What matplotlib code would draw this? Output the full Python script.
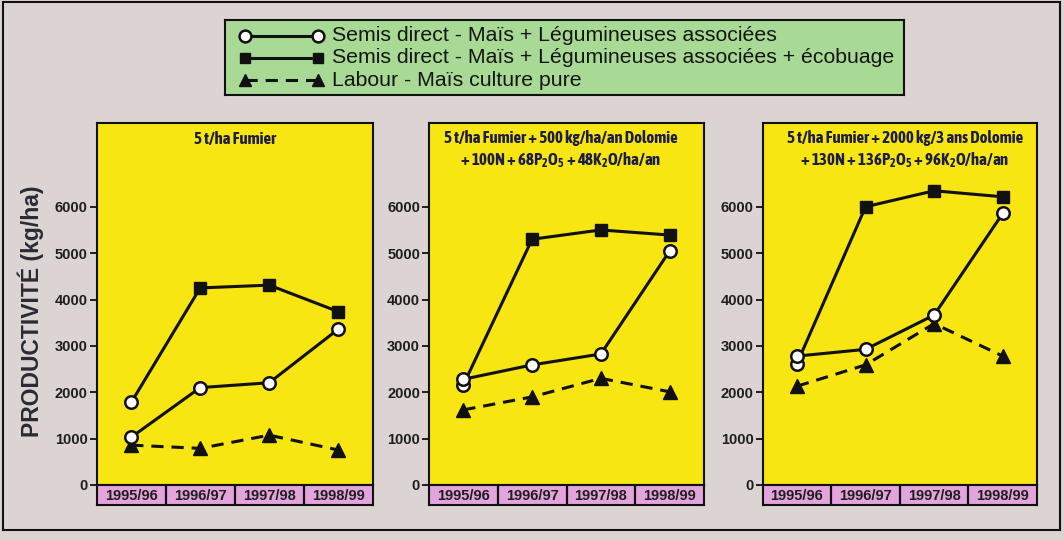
import matplotlib
matplotlib.use('Agg')
import matplotlib.pyplot as plt
from matplotlib.patches import Rectangle
from matplotlib import font_manager as fm

# ---------------- data ----------------
seasons = ['1995/96', '1996/97', '1997/98', '1998/99']
series_labels = [
    'Semis direct - Maïs + Légumineuses associées',
    'Semis direct - Maïs + Légumineuses associées + écobuage',
    'Labour - Maïs culture pure',
]
panel_titles = [
    ['5 t/ha Fumier'],
    ['5 t/ha Fumier + 500 kg/ha/an Dolomie',
     r'+ 100N + 68$\mathregular{P_2O_5}$ + 48$\mathregular{K_2O}$/ha/an'],
    ['5 t/ha Fumier + 2000 kg/3 ans Dolomie',
     r'+ 130N + 136$\mathregular{P_2O_5}$ + 96$\mathregular{K_2O}$/ha/an'],
]
sd_assoc = [[1030, 2100, 2205, 3360],
            [2280, 2590, 2825, 5045],
            [2780, 2925, 3665, 5855]]
sd_ecob = [[1780, 4250, 4310, 3740],
           [2160, 5300, 5500, 5390],
           [2620, 6000, 6345, 6215]]
labour = [[860, 790, 1075, 755],
          [1620, 1900, 2300, 2010],
          [2130, 2590, 3480, 2780]]
yticks = [0, 1000, 2000, 3000, 4000, 5000, 6000]
ylabel = 'PRODUCTIVITÉ (kg/ha)'

# ---------------- style ----------------
W, H = 1064, 540
BG = '#dbd4d2'
YELLOW = '#f7e612'
PINK = '#e3a4dc'
GREEN = '#a8da95'
K = '#111111'
NAVY = '#1d1d45'


def _is_bold(f):
    return ((isinstance(f.weight, int) and f.weight >= 600)
            or f.weight in ('bold', 'heavy', 'black', 'semibold', 'demibold'))


narrow = [f for f in fm.fontManager.ttflist
          if f.style == 'normal' and (
              f.stretch in ('condensed', 'semi-condensed', 'extra-condensed',
                            'ultra-condensed')
              or 'Narrow' in f.name or 'Condensed' in f.name)]
narrow_bold = [f for f in narrow if _is_bold(f)]
pick = narrow_bold or narrow
if pick:
    f0 = sorted(pick, key=lambda f: (f.name.startswith('DejaVu'), f.name))[0]
    COND = dict(family=f0.name, stretch=f0.stretch, style='normal')
    TSIZE = 12.1
else:
    COND = dict(family='Liberation Sans')
    TSIZE = 9.2
SANS = 'Liberation Sans'


def rect(x0, y0, x1, y1):
    return [x0 / W, 1 - y1 / H, (x1 - x0) / W, (y1 - y0) / H]


fig = plt.figure(figsize=(W / 100, H / 100), dpi=100, facecolor=BG)
fig.add_artist(Rectangle((3 / W, 1 - 530 / H), 1057 / W, 528 / H,
                         transform=fig.transFigure, fill=False, lw=1.5, ec=K))

panel_x = [(96.7, 372.7), (429, 704), (762.7, 1037)]
title_cx = [234.7, 561, 905]
title_y = [[139], [138.3, 160], [138.3, 160]]
AX_TOP, AX_BOT, BAND_BOT = 123.3, 485, 505
x = list(range(len(seasons)))

for i, (x0, x1) in enumerate(panel_x):
    ax = fig.add_axes(rect(x0, AX_TOP, x1, AX_BOT))
    ax.set_facecolor(YELLOW)
    ax.set_xlim(-0.5, 3.5)
    ax.set_ylim(0, 7800)
    ax.plot(x, labour[i], color=K, lw=2.2, dashes=(4, 2.6), marker='^', ms=9.5,
            mfc=K, mec=K, zorder=3, clip_on=False)
    ax.plot(x, sd_ecob[i], color=K, lw=2.2, marker='s', ms=8, mfc=K, mec=K,
            markevery=[1, 2, 3], zorder=4, clip_on=False)
    ax.plot(x[:1], sd_ecob[i][:1], ls='none', marker='o', ms=9, mfc='white',
            mec=K, mew=1.8, zorder=5, clip_on=False)
    ax.plot(x, sd_assoc[i], color=K, lw=2.2, marker='o', ms=9, mfc='white',
            mec=K, mew=1.8, zorder=6, clip_on=False)
    ax.set_xticks([])
    ax.set_yticks(yticks)
    ax.set_yticklabels([str(v) for v in yticks], fontsize=10.5,
                       fontweight='bold', family=SANS, color='#1e1e1e')
    ax.tick_params(axis='y', length=5, width=1.3, pad=1.5, direction='out',
                   color=K)
    for s in ax.spines.values():
        s.set_linewidth(1.5)
        s.set_color(K)

    bx = fig.add_axes(rect(x0, AX_BOT, x1, BAND_BOT))
    bx.set_facecolor(PINK)
    bx.set_xlim(-0.5, 3.5)
    bx.set_ylim(0, 1)
    bx.set_xticks([])
    bx.set_yticks([])
    for j in range(len(seasons) - 1):
        bx.axvline(j + 0.5, color=K, lw=1.6)
    for j, s in enumerate(seasons):
        bx.text(j, 0.45, s, ha='center', va='center', fontsize=10.5,
                fontweight='bold', family=SANS, color='#1e1e1e')
    for s in bx.spines.values():
        s.set_linewidth(1.5)
        s.set_color(K)

    for line, yy in zip(panel_titles[i], title_y[i]):
        fig.text(title_cx[i] / W, 1 - yy / H, line, ha='center', va='center',
                 fontsize=TSIZE, fontweight='bold', color=NAVY, **COND)

fig.text(31 / W, 1 - 311 / H, ylabel, rotation=90, ha='center', va='center',
         fontsize=16.5, fontweight='bold', family=SANS, color='#2a2a35')

# ---------------- legend box ----------------
LX0, LY0, LX1, LY1 = 224.7, 20, 904, 95
lx = fig.add_axes(rect(LX0, LY0, LX1, LY1))
lx.set_facecolor(GREEN)
lx.set_xlim(0, LX1 - LX0)
lx.set_ylim(LY1 - LY0, 0)
lx.set_xticks([])
lx.set_yticks([])
for s in lx.spines.values():
    s.set_linewidth(1.5)
    s.set_color(K)
row_y = [15.7, 37.7, 60]
hx = [20, 93.3]
styles = [
    dict(marker='o', ms=8.5, mfc='white', mec=K, mew=1.8, ls='-'),
    dict(marker='s', ms=7.5, mfc=K, mec=K, ls='-'),
    dict(marker='^', ms=9, mfc=K, mec=K, dashes=(4, 2.6)),
]
for ry, st, lab in zip(row_y, styles, series_labels):
    lx.plot(hx, [ry, ry], color=K, lw=2.2, clip_on=False, **st)
    lx.text(107.3, ry, lab, ha='left', va='center', fontsize=15.3,
            family=SANS, color='#151515')

fig.savefig('out.png', dpi=100, facecolor=BG)
